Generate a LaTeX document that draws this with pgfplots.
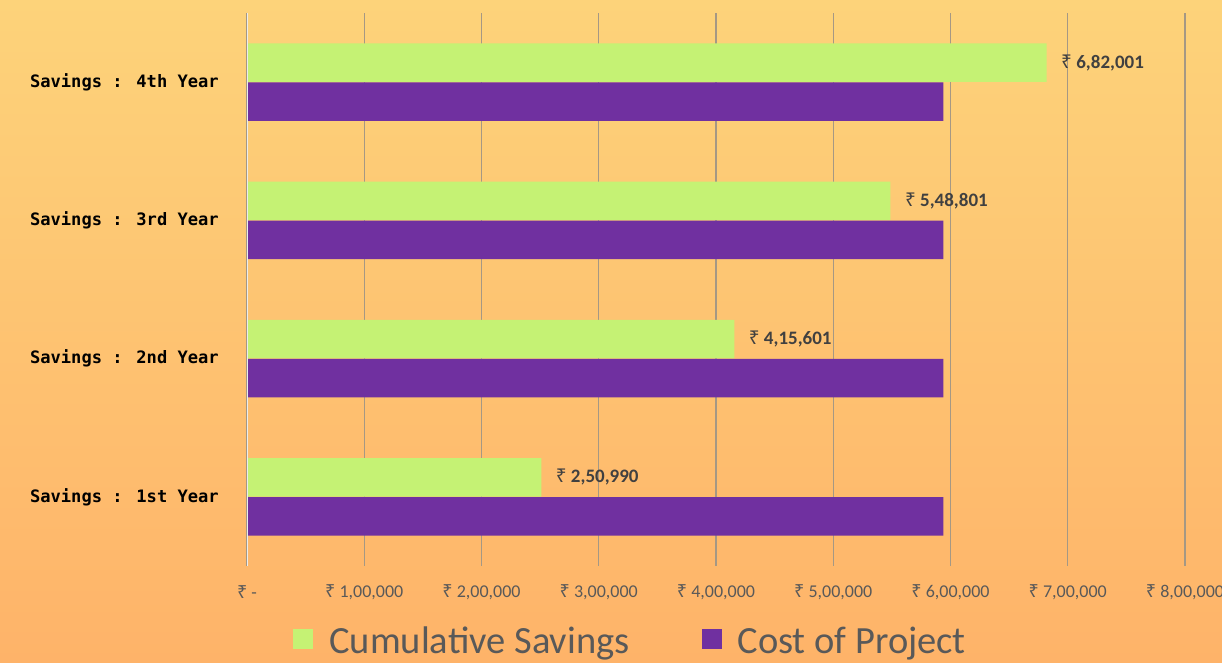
\documentclass[border=0pt]{standalone}
\usepackage{fontspec}
\usepackage{pgfplots}
\pgfplotsset{compat=1.18}
\setmainfont{Carlito}
\newfontfamily\monofont{DejaVu Sans Mono}
\newfontfamily\rupfont{Noto Sans}
\newcommand{\rupee}{{\rupfont ₹}}
\definecolor{csave}{RGB}{197,242,116}
\definecolor{cproj}{RGB}{112,48,160}
\definecolor{bgtop}{RGB}{253,211,122}
\definecolor{bgbot}{RGB}{254,179,105}
\definecolor{ticktxt}{RGB}{89,89,89}
\definecolor{lbltxt}{RGB}{64,64,64}
\definecolor{gridc}{RGB}{165,152,132}
\begin{document}
\begin{tikzpicture}[x=1pt,y=1pt]
\useasboundingbox (0,0) rectangle (1222,663);
\shade[top color=bgtop, bottom color=bgbot] (0,0) rectangle (1222,663);
\begin{scope}
\clip (0,0) rectangle (1222,663);
\begin{axis}[
  at={(247pt,97pt)}, anchor=south west,
  scale only axis, width=938pt, height=553pt,
  xbar, bar width=38.5pt,
  xmin=0, xmax=800000, ymin=-0.5, ymax=3.5,
  scaled x ticks=false,
  axis line style={draw=none},
  major tick length=0pt,
  xmajorgrids, major grid style={draw=gridc, line width=1.3pt},
  xtick={0,100000,200000,300000,400000,500000,600000,700000,800000},
  xticklabels={{\rupee\ -},{\rupee\ 1,00,000},{\rupee\ 2,00,000},{\rupee\ 3,00,000},{\rupee\ 4,00,000},{\rupee\ 5,00,000},{\rupee\ 6,00,000},{\rupee\ 7,00,000},{\rupee\ 8,00,000}},
  xticklabel style={font=\fontsize{18}{18}\selectfont, text=ticktxt, anchor=center, yshift=-26pt},
  ytick={0,1,2,3},
  yticklabels={{Savings : 1st Year},{Savings : 2nd Year},{Savings : 3rd Year},{Savings : 4th Year}},
  yticklabel style={font=\monofont\bfseries\fontsize{17.1}{18}\selectfont, text=black, anchor=east, inner sep=0pt, xshift=-28pt},
  legend style={at={(0.409,-0.136)}, anchor=center, draw=none, fill=none,
    font=\fontsize{38.5}{38.5}\selectfont, text=ticktxt,
    /tikz/every odd column/.append style={column sep=14pt},
    /tikz/every even column/.append style={column sep=70pt}},
  legend columns=2,
  legend image code/.code={\fill[#1] (0pt,-8pt) rectangle (20pt,12pt);},
]
\addplot[fill=csave, draw=none, bar shift=19.5pt,
  point meta=explicit symbolic,
  nodes near coords={\rupee\ \pgfplotspointmeta},
  every node near coord/.append style={font=\bfseries\fontsize{19}{19}\selectfont, text=lbltxt, anchor=west, xshift=11pt}]
  coordinates {(250990,0) [2,50,990] (415601,1) [4,15,601] (548801,2) [5,48,801] (682001,3) [6,82,001]};
\addlegendentry{Cumulative Savings}
\addplot[fill=cproj, draw=none, bar shift=-19.5pt]
  coordinates {(594000,0) (594000,1) (594000,2) (594000,3)};
\addlegendentry{Cost of Project}
\draw[white!85!gray, line width=1.5pt] (axis cs:0,-0.5) -- (axis cs:0,3.5);
\end{axis}
\end{scope}
\end{tikzpicture}
\end{document}
